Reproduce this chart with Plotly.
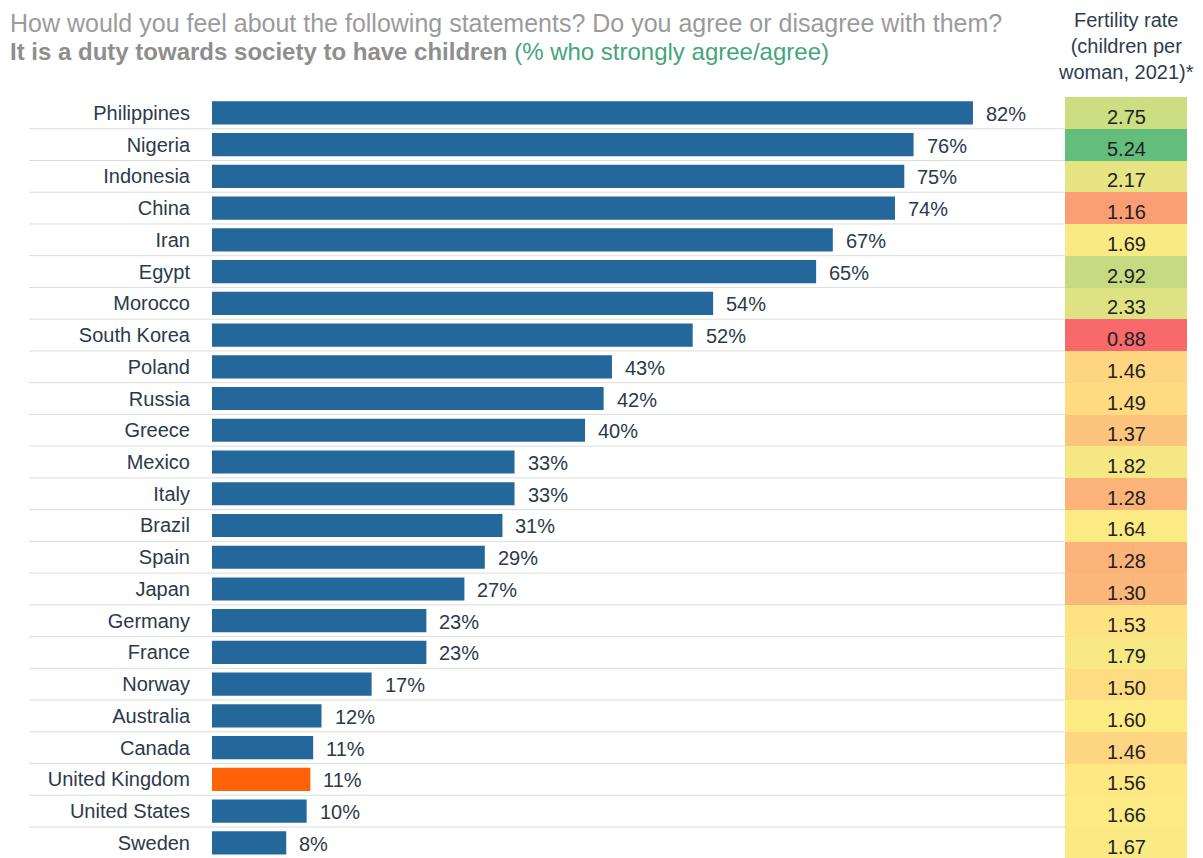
import numpy as np
import plotly.graph_objects as go

# ---------------- data ----------------
countries = ["Philippines", "Nigeria", "Indonesia", "China", "Iran", "Egypt", "Morocco",
             "South Korea", "Poland", "Russia", "Greece", "Mexico", "Italy", "Brazil",
             "Spain", "Japan", "Germany", "France", "Norway", "Australia", "Canada",
             "United Kingdom", "United States", "Sweden"]
agree_pct = [82.0, 75.6, 74.6, 73.6, 66.9, 65.1, 54.0, 51.8, 43.1, 42.2, 40.2, 32.6,
             32.6, 31.3, 29.4, 27.2, 23.1, 23.1, 17.2, 11.8, 10.9, 10.6, 10.2, 8.0]
fertility = [2.75, 5.24, 2.17, 1.16, 1.69, 2.92, 2.33, 0.88, 1.46, 1.49, 1.37, 1.82,
             1.28, 1.64, 1.28, 1.30, 1.53, 1.79, 1.50, 1.60, 1.46, 1.56, 1.66, 1.67]
highlight = "United Kingdom"

# ---------------- styles ----------------
W, H = 1203, 858
FONT = "Liberation Sans"
BLUE = "#24679b"
ORANGE = "#ff6208"
TXT = "#2b3a4b"
RED, YEL, GRN = "#F8696B", "#FFEB84", "#63BE7B"

top_px = 97
row_px = 31.74
n = len(countries)
bottom_val = (H - top_px) / row_px - 0.5

bar_colors = [ORANGE if c == highlight else BLUE for c in countries]

zmin, zmax = min(fertility), max(fertility)
mid = float(np.percentile(fertility, 50))
mid_frac = (mid - zmin) / (zmax - zmin)

fig = go.Figure()

fig.add_trace(go.Bar(
    x=agree_pct, y=countries, orientation="h",
    marker=dict(color=bar_colors, line=dict(width=0)),
    width=0.73, hoverinfo="skip", showlegend=False,
))

fig.add_trace(go.Heatmap(
    z=[[v] for v in fertility], y=countries, x=["fert"],
    xaxis="x2", yaxis="y",
    colorscale=[[0, RED], [mid_frac, YEL], [1, GRN]],
    zmin=zmin, zmax=zmax, showscale=False, hoverinfo="skip",
))

annotations = []
for c, v in zip(countries, agree_pct):
    annotations.append(dict(x=v, y=c, xref="x", yref="y", text=f"{v:.0f}%",
                            showarrow=False, xanchor="left", xshift=11, yshift=-1,
                            font=dict(family=FONT, size=20, color=TXT)))
for c, f in zip(countries, fertility):
    annotations.append(dict(x="fert", y=c, xref="x2", yref="y", text=f"{f:.2f}",
                            showarrow=False, yshift=-4,
                            font=dict(family=FONT, size=20, color="#222222")))

annotations.append(dict(
    x=8 / W, y=1 - 23 / H, xref="paper", yref="paper", xanchor="left", yanchor="middle",
    text="How would you feel about the following statements? Do you agree or disagree with them?",
    showarrow=False, font=dict(family=FONT, size=25, color="#9b9b9b")))
annotations.append(dict(
    x=8 / W, y=1 - 52 / H, xref="paper", yref="paper", xanchor="left", yanchor="middle",
    text="<b>It is a duty towards society to have children</b>"
         " <span style='color:#45a57c'>(% who strongly agree/agree)</span>",
    showarrow=False, font=dict(family=FONT, size=24, color="#8e8e8e")))
annotations.append(dict(
    x=1126 / W, y=1 - 46 / H, xref="paper", yref="paper", xanchor="center", yanchor="middle",
    text="Fertility rate<br>(children per<br>woman, 2021)*",
    showarrow=False, align="center",
    font=dict(family=FONT, size=20, color="#2e3d4e")))

shapes = []
for i in range(n - 1):
    shapes.append(dict(type="line", xref="paper", yref="y",
                       x0=29 / W, x1=1065 / W, y0=i + 0.5, y1=i + 0.5,
                       line=dict(color="#dcdcdc", width=1), layer="below"))

fig.update_layout(
    width=W, height=H,
    margin=dict(l=0, r=0, t=0, b=0),
    paper_bgcolor="white", plot_bgcolor="rgba(0,0,0,0)",
    bargap=0.27,
    xaxis=dict(domain=[212 / W, 1040 / W], range=[0, (1040 - 212) / 9.28],
               showgrid=False, zeroline=False, showticklabels=False, showline=False),
    xaxis2=dict(domain=[1065 / W, 1187 / W], showgrid=False, zeroline=False,
                showticklabels=False, showline=False),
    yaxis=dict(domain=[0, 1 - top_px / H], type="category",
               categoryorder="array", categoryarray=countries,
               range=[bottom_val, -0.5], showgrid=False, zeroline=False, showline=False,
               ticks="outside", ticklen=17, tickcolor="rgba(0,0,0,0)",
               tickfont=dict(family=FONT, size=20, color=TXT)),
    annotations=annotations,
    shapes=shapes,
)

fig.write_html("out.html")
